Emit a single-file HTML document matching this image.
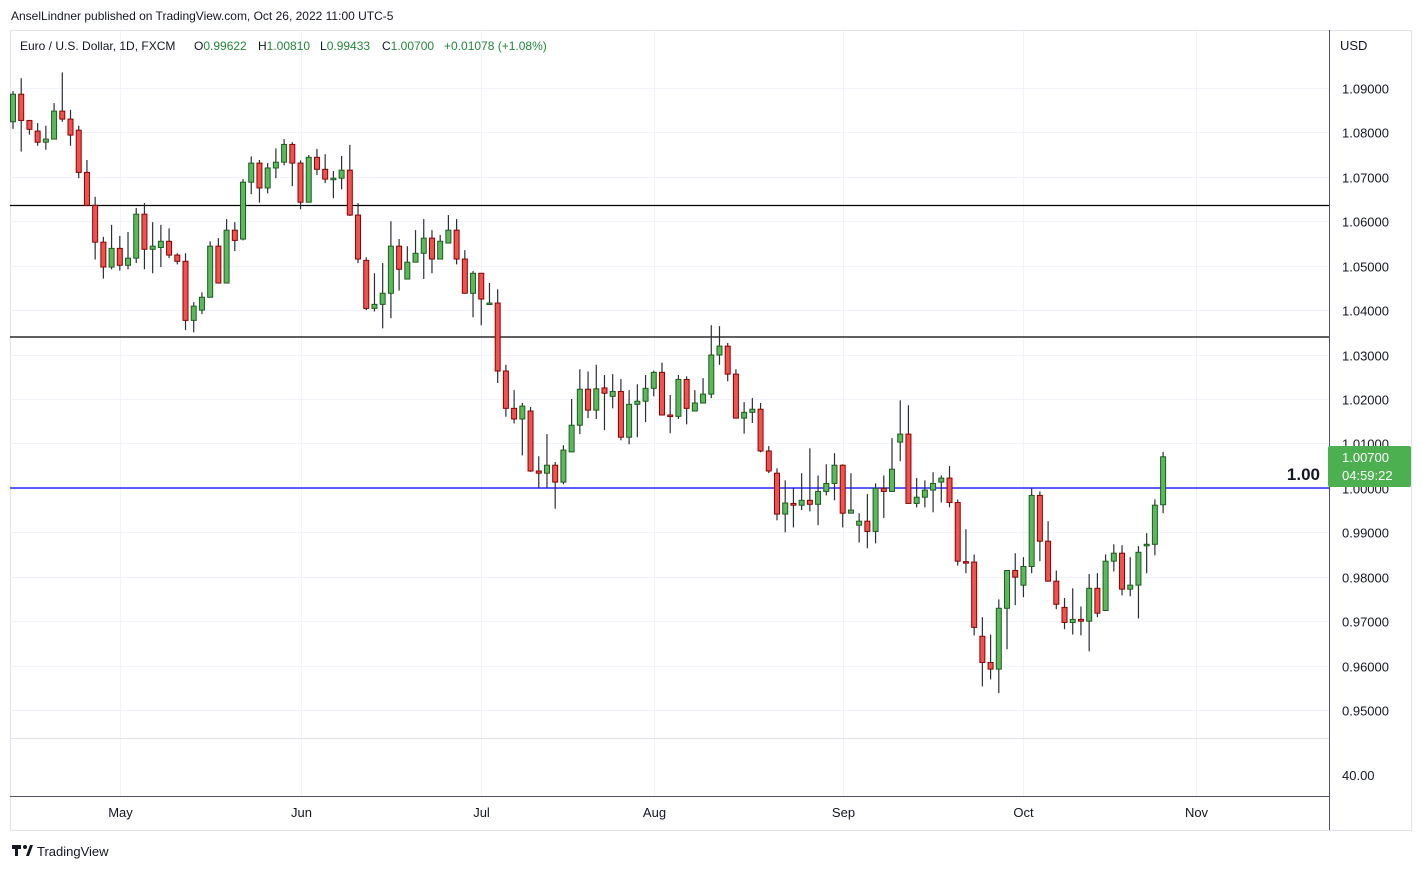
<!DOCTYPE html>
<html><head><meta charset="utf-8"><style>
body{margin:0;background:#fff;font-family:"Liberation Sans",sans-serif;}
svg text{font-family:"Liberation Sans",sans-serif;}
</style></head><body>
<svg id="chart" width="1423" height="870" viewBox="0 0 1423 870" xmlns="http://www.w3.org/2000/svg">
<rect x="0" y="0" width="1423" height="870" fill="#fff"/>
<text x="11" y="20" font-size="12" fill="#131722">AnselLindner published on TradingView.com, Oct 26, 2022 11:00 UTC-5</text>
<rect x="10.5" y="30.5" width="1401" height="800" fill="none" stroke="#e0e3eb"/>
<g id="grid"></g>
<line x1="1329.5" y1="30" x2="1329.5" y2="830" stroke="#50535e" stroke-width="1"/>
<line x1="10" y1="738.5" x2="1329" y2="738.5" stroke="#e0e3eb"/>
<line x1="10" y1="796.5" x2="1329" y2="796.5" stroke="#50535e"/>
<line x1="10" y1="205.5" x2="1329" y2="205.5" stroke="#000" stroke-width="1.2"/>
<line x1="10" y1="337" x2="1329" y2="337" stroke="#000" stroke-width="1.2"/>
<line x1="10" y1="488" x2="1329" y2="488" stroke="#0000ff" stroke-width="1.2"/>
<text x="1320" y="480" font-size="17" text-anchor="end" fill="#131722" font-weight="bold">1.00</text>
<g id="candles"></g>
<g id="yaxis"></g>
<g id="xaxis"></g>
<rect x="1328" y="446" width="83" height="41" rx="2" fill="#4caf50"/>
<text x="1342" y="462" font-size="13" fill="#fff">1.00700</text>
<text x="1342" y="480" font-size="13" fill="#fff">04:59:22</text>
<text x="1340" y="50" font-size="13" fill="#131722">USD</text>
<text x="1342" y="780" font-size="13" fill="#131722">40.00</text>
<text y="50" font-size="12" fill="#131722"><tspan x="20">Euro / U.S. Dollar, 1D, FXCM</tspan><tspan x="194">O</tspan><tspan fill="#22863a">0.99622</tspan><tspan x="258">H</tspan><tspan fill="#22863a">1.00810</tspan><tspan x="320">L</tspan><tspan fill="#22863a">0.99433</tspan><tspan x="382">C</tspan><tspan fill="#22863a">1.00700</tspan><tspan x="444" fill="#22863a">+0.01078 (+1.08%)</tspan></text>
<g>
<rect x="12" y="845" width="9" height="4" fill="#131722"/><rect x="15" y="845" width="3" height="11" fill="#131722"/>
<circle cx="25" cy="847" r="2" fill="#131722"/><path d="M26 856 L30 845 L33 845 L29 856 Z" fill="#131722"/>
<text x="37" y="856" font-size="13" fill="#131722">TradingView</text>
</g>
</svg>
<script>
const opens=[1.0824,1.0886,1.0827,1.0803,1.0778,1.0785,1.0848,1.0830,1.0805,1.0710,
1.0636,1.0553,1.0497,1.0539,1.0501,1.0517,1.0616,1.0537,1.0541,1.0555,
1.0524,1.0510,1.0377,1.0400,1.0429,1.0544,1.0461,1.0580,1.0560,1.0688,
1.0731,1.0675,1.0720,1.0733,1.0773,1.0731,1.0643,1.0744,1.0717,1.0695,
1.0697,1.0715,1.0614,1.0512,1.0404,1.0413,1.0438,1.0544,1.0470,1.0508,
1.0528,1.0562,1.0515,1.0551,1.0580,1.0515,1.0438,1.0483,1.0414,1.0416,
1.0263,1.0179,1.0155,1.0173,1.0038,1.0033,1.0051,1.0013,1.0081,1.0141,
1.0222,1.0175,1.0225,1.0206,1.0217,1.0114,1.0188,1.0195,1.0224,1.0260,
1.0164,1.0161,1.0244,1.0173,1.0191,1.0211,1.0299,1.0319,1.0256,1.0157,
1.0170,1.0177,1.0083,1.0033,0.9941,0.9965,0.9961,0.9972,0.9963,0.9992,
1.0010,1.0051,0.9943,0.9916,0.9925,0.9902,0.9999,0.9992,1.0103,1.0121,
0.9965,0.9979,0.9995,1.0013,1.0022,0.9967,0.9834,0.9833,0.9666,0.9607,
0.9592,0.9729,0.9814,0.9781,0.9823,0.9983,0.9880,0.9790,0.9731,0.9697,
0.9704,0.9700,0.9774,0.9724,0.9835,0.9853,0.9772,0.9781,0.9871,0.9873,
0.9962];
const highs=[1.0893,1.0922,1.0827,1.0821,1.0815,1.0866,1.0935,1.0851,1.0815,1.0738,
1.0655,1.0565,1.0592,1.0567,1.0576,1.0630,1.0641,1.0598,1.0592,1.0584,
1.0528,1.0528,1.0418,1.0440,1.0555,1.0562,1.0605,1.0598,1.0695,1.0746,
1.0738,1.0731,1.0764,1.0785,1.0778,1.0737,1.0749,1.0763,1.0751,1.0713,
1.0747,1.0772,1.0641,1.0519,1.0483,1.0506,1.0600,1.0560,1.0544,1.0580,
1.0605,1.0580,1.0569,1.0614,1.0605,1.0535,1.0488,1.0483,1.0461,1.0447,
1.0277,1.0220,1.0191,1.0182,1.0071,1.0121,1.0058,1.0096,1.0200,1.0267,
1.0262,1.0277,1.0254,1.0256,1.0245,1.0220,1.0233,1.0254,1.0264,1.0282,
1.0209,1.0254,1.0251,1.0220,1.0247,1.0366,1.0364,1.0326,1.0267,1.0193,
1.0202,1.0191,1.0094,1.0044,1.0017,0.9999,1.0033,1.0089,1.0028,1.0053,
1.0078,1.0053,1.0033,0.9943,0.9986,1.0010,1.0028,1.0112,1.0197,1.0186,
1.0022,1.0017,1.0035,1.0028,1.0049,0.9974,0.9907,0.9850,0.9709,0.9670,
0.9749,0.9814,0.9853,0.9844,0.9999,0.9992,0.9925,0.9814,0.9752,0.9774,
0.9733,0.9806,0.9808,0.9850,0.9873,0.9871,0.9844,0.9869,0.9898,0.9974,
1.0081];
const lows=[1.0808,1.0757,1.0795,1.0770,1.0761,1.0785,1.0824,1.0770,1.0697,1.0636,
1.0514,1.0471,1.0492,1.0489,1.0492,1.0506,1.0492,1.0483,1.0497,1.0517,
1.0503,1.0355,1.0350,1.0391,1.0429,1.0461,1.0461,1.0533,1.0557,1.0661,
1.0642,1.0663,1.0697,1.0726,1.0679,1.0627,1.0643,1.0704,1.0686,1.0652,
1.0672,1.0612,1.0506,1.0400,1.0397,1.0359,1.0382,1.0444,1.0470,1.0508,
1.0470,1.0483,1.0515,1.0551,1.0503,1.0438,1.0384,1.0366,1.0414,1.0236,
1.0160,1.0145,1.0073,1.0036,1.0000,1.0000,0.9953,1.0008,1.0081,1.0121,
1.0157,1.0155,1.0130,1.0179,1.0107,1.0098,1.0114,1.0148,1.0206,1.0164,
1.0123,1.0155,1.0143,1.0173,1.0196,1.0202,1.0277,1.0240,1.0157,1.0122,
1.0146,1.0080,1.0033,0.9927,0.9900,0.9911,0.9950,0.9947,0.9916,0.9983,
0.9972,0.9911,0.9943,0.9877,0.9864,0.9875,0.9932,0.9992,1.0060,0.9965,
0.9956,0.9956,0.9945,0.9967,0.9956,0.9825,0.9808,0.9668,0.9553,0.9569,
0.9538,0.9637,0.9736,0.9754,0.9808,0.9835,0.9790,0.9727,0.9682,0.9670,
0.9668,0.9632,0.9709,0.9724,0.9812,0.9758,0.9756,0.9706,0.9808,0.9848,
0.9943];
const closes=[1.0886,1.0827,1.0807,1.0778,1.0785,1.0848,1.0830,1.0794,1.0710,1.0636,
1.0553,1.0497,1.0539,1.0501,1.0517,1.0616,1.0537,1.0544,1.0555,1.0524,
1.0510,1.0377,1.0409,1.0429,1.0544,1.0461,1.0580,1.0557,1.0688,1.0731,
1.0675,1.0720,1.0733,1.0773,1.0731,1.0643,1.0744,1.0717,1.0695,1.0697,
1.0715,1.0614,1.0515,1.0404,1.0413,1.0438,1.0544,1.0492,1.0508,1.0528,
1.0562,1.0515,1.0555,1.0580,1.0515,1.0438,1.0483,1.0425,1.0416,1.0263,
1.0179,1.0155,1.0184,1.0038,1.0033,1.0051,1.0013,1.0085,1.0141,1.0222,
1.0175,1.0223,1.0213,1.0217,1.0114,1.0188,1.0195,1.0224,1.0260,1.0164,
1.0161,1.0244,1.0179,1.0191,1.0211,1.0299,1.0319,1.0256,1.0157,1.0170,
1.0177,1.0083,1.0038,0.9941,0.9966,0.9961,0.9972,0.9963,0.9992,1.0010,
1.0051,0.9943,0.9950,0.9925,0.9902,0.9999,0.9992,1.0042,1.0121,0.9965,
0.9979,0.9995,1.0010,1.0022,0.9967,0.9835,0.9833,0.9686,0.9607,0.9592,
0.9729,0.9814,0.9799,0.9823,0.9983,0.9880,0.9790,0.9738,0.9697,0.9704,
0.9700,0.9774,0.9718,0.9835,0.9853,0.9772,0.9781,0.9855,0.9873,0.9961,
1.0070];
const priceTicks=["1.09000","1.08000","1.07000","1.06000","1.05000","1.04000","1.03000","1.02000","1.01000","1.00000","0.99000","0.98000","0.97000","0.96000","0.95000"];
const monthLabels=["May","Jun","Jul","Aug","Sep","Oct","Nov"];
const monthBarIndex=[13,35,57,78,101,123,144];

const NS="http://www.w3.org/2000/svg";
function yScale(p){return 88+(1.09-p)*4443;}
function xScale(i){return 13+i*8.215;}
function mk(tag,attrs,parent){const e=document.createElementNS(NS,tag);for(const k in attrs)e.setAttribute(k,attrs[k]);parent.appendChild(e);return e;}

const grid=document.getElementById('grid');
const yaxis=document.getElementById('yaxis');
priceTicks.forEach(function(t){
  const y=Math.round(yScale(parseFloat(t)))+0.5;
  const gl=mk('line',{x1:10,x2:1329,y1:y,y2:y,stroke:'#f0f3fa'},grid);
  
  
  const tx=mk('text',{x:1342,y:y+5,'font-size':13,fill:'#131722'},yaxis);
  tx.textContent=t;
  
  
});
const xaxis=document.getElementById('xaxis');
monthLabels.forEach(function(m,k){
  const x=Math.round(xScale(monthBarIndex[k]))+0.5;
  const gl=mk('line',{x1:x,x2:x,y1:31,y2:796,stroke:'#f0f3fa'},grid);
  
  
  const tx=mk('text',{x:x,y:817,'font-size':13,'text-anchor':'middle',fill:'#131722'},xaxis);
  tx.textContent=m;
  
  
});
const cg=document.getElementById('candles');
for(let i=0;i<opens.length;i++){
  const up=closes[i]>=opens[i];
  const x=xScale(i);
  const g=mk('g',{},cg);
  
  
  mk('line',{x1:x,x2:x,y1:yScale(highs[i]),y2:yScale(lows[i]),stroke:'#2a2e39','stroke-width':1.2},g);
  const top=yScale(Math.max(opens[i],closes[i]));
  const h=Math.max(1.5,yScale(Math.min(opens[i],closes[i]))-top);
  mk('rect',{x:x-2.5,y:top,width:5,height:h,fill:up?'#5cb85c':'#ef5350',stroke:up?'#1b5e20':'#8b0000','stroke-width':1},g);
}
</script>
</body></html>
